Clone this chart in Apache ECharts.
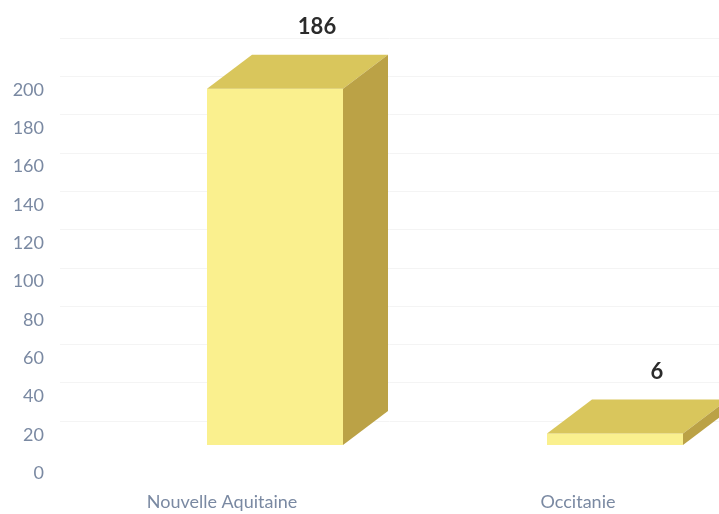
<!DOCTYPE html>
<html>
<head>
<meta charset="utf-8">
<script src="https://cdn.jsdelivr.net/npm/echarts@6/dist/echarts.min.js"></script>
<style>
  html, body { margin: 0; padding: 0; background: #fff; }
  #chart { width: 719px; height: 514px; }
</style>
</head>
<body>
<div id="chart"></div>
<script>
// Données
var regions = ['Nouvelle Aquitaine', 'Occitanie'];
var effectifs = [186, 6];
var yMax = 200;
var yStep = 20;

// Profondeur de la perspective 3D (px)
var DX = 45, DY = -34;

var couleurs = {
    face: '#faf08e',
    dessus: '#d9c65c',
    cote: '#bba246',
    texteAxe: '#7a89a2',
    etiquette: '#2b2b2b',
    grille: '#f4f4f4'
};

function dessinerBarre(params, api) {
    var idx = api.value(0);
    var val = api.value(1);
    var haut = api.coord([idx, val]);
    var bas = api.coord([idx, 0]);
    var w = api.size([1, 0])[0] * 0.4;
    var x0 = haut[0] - w / 2, x1 = haut[0] + w / 2;
    var yT = haut[1], yB = bas[1];
    return {
        type: 'group',
        children: [
            {
                type: 'rect',
                shape: { x: x0, y: yT, width: w, height: yB - yT },
                style: { fill: couleurs.face }
            },
            {
                type: 'polygon',
                shape: { points: [[x0, yT], [x0 + DX, yT + DY], [x1 + DX, yT + DY], [x1, yT]] },
                style: { fill: couleurs.dessus }
            },
            {
                type: 'polygon',
                shape: { points: [[x1, yT], [x1 + DX, yT + DY], [x1 + DX, yB + DY], [x1, yB]] },
                style: { fill: couleurs.cote }
            },
            {
                type: 'text',
                style: {
                    x: haut[0] + 42, y: yT + DY - 28,
                    text: String(val),
                    fill: couleurs.etiquette,
                    font: 'bold 22px Lato',
                    textAlign: 'center', textVerticalAlign: 'middle'
                }
            }
        ]
    };
}

var chart = echarts.init(document.getElementById('chart'));
var options = {
    animation: false,
    grid: [
        { left: 52, width: 647, top: 90, bottom: 41, outerBoundsMode: 'none' },   // axe des valeurs
        { left: 105, width: 680, top: 62, bottom: 69, outerBoundsMode: 'none' },  // barres
        { left: 44, width: 712, top: 90, bottom: 41, outerBoundsMode: 'none' },   // libellés catégories
        { left: 60, width: 659, top: 38, bottom: 93, outerBoundsMode: 'none' }    // grille du fond
    ],
    xAxis: [
        { gridIndex: 0, type: 'category', data: regions, show: false },
        { gridIndex: 1, type: 'category', data: regions, show: false },
        {
            gridIndex: 2, type: 'category', data: regions,
            axisLine: { show: false }, axisTick: { show: false },
            axisLabel: { color: couleurs.texteAxe, fontFamily: 'Lato', fontSize: 18, margin: 20 }
        },
        { gridIndex: 3, type: 'category', data: regions, show: false }
    ],
    yAxis: [
        {
            gridIndex: 0, type: 'value', min: 0, max: yMax, interval: yStep,
            axisLine: { show: false }, axisTick: { show: false }, splitLine: { show: false },
            axisLabel: { color: couleurs.texteAxe, fontFamily: 'Lato', fontSize: 18, margin: 8 }
        },
        { gridIndex: 1, type: 'value', min: 0, max: yMax, show: false },
        { gridIndex: 2, type: 'value', min: 0, max: yMax, show: false },
        {
            gridIndex: 3, type: 'value', min: 0, max: yMax, interval: yStep,
            axisLine: { show: false }, axisTick: { show: false }, axisLabel: { show: false },
            splitLine: { show: true, lineStyle: { color: couleurs.grille, width: 1 } }
        }
    ],
    series: [{
        type: 'custom',
        xAxisIndex: 1,
        yAxisIndex: 1,
        renderItem: dessinerBarre,
        data: regions.map(function (r, i) { return [i, effectifs[i]]; }),
        z: 10
    }]
};
chart.setOption(options);
</script>
</body>
</html>
